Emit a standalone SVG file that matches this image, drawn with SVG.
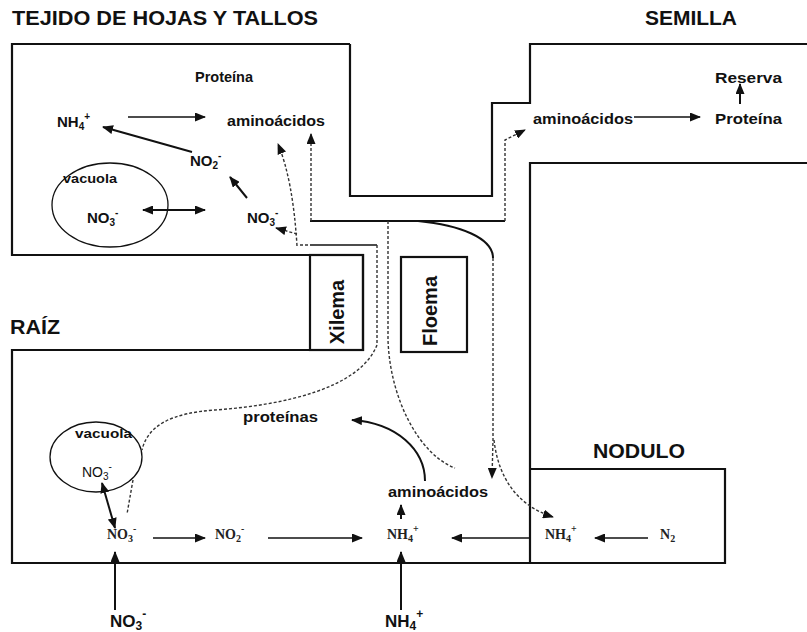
<svg xmlns="http://www.w3.org/2000/svg" width="807" height="632" viewBox="0 0 807 632">
<defs>
<style>
.wall{fill:none;stroke:#111;stroke-width:2.2}
.sol{fill:none;stroke:#111;stroke-width:2}
.thin{fill:none;stroke:#111;stroke-width:1.3}
.dot{fill:none;stroke:#333;stroke-width:1.4;stroke-dasharray:3 2}
.h{font-family:"Liberation Sans",Arial,sans-serif;font-weight:bold;font-size:20px;fill:#111}
.l{font-family:"Liberation Sans",Arial,sans-serif;font-weight:bold;font-size:15px;fill:#111}
.s{font-family:"Liberation Sans",Arial,sans-serif;font-weight:bold;font-size:13px;fill:#111}
.c{font-family:"Liberation Sans",Arial,sans-serif;font-size:14px;fill:#111}
.r{font-family:"Liberation Serif","Times New Roman",serif;font-weight:bold;font-size:14px;fill:#222}
.b{font-family:"Liberation Sans",Arial,sans-serif;font-weight:bold;font-size:17px;fill:#111}
</style>
<marker id="ah" markerUnits="userSpaceOnUse" markerWidth="11" markerHeight="9" refX="10" refY="4.5" orient="auto-start-reverse">
<path d="M0,0 L11,4.5 L0,9 z" fill="#111"/>
</marker>
</defs>

<g id="walls">
<path class="wall" d="M350,44 H12 V255 H363 V350 H12 V563 H725 V469 H531"/>
<path class="wall" d="M350,44 V196 H492 V103 H530 V44 H807"/>
<path class="wall" d="M807,163 H530 V563"/>
</g>

<g id="titles">
<text class="h" x="12" y="25" textLength="306" lengthAdjust="spacingAndGlyphs">TEJIDO DE HOJAS Y TALLOS</text>
<text class="h" x="645" y="25" textLength="92" lengthAdjust="spacingAndGlyphs">SEMILLA</text>
<text class="h" x="10" y="334" textLength="50" lengthAdjust="spacingAndGlyphs">RAÍZ</text>
<text class="h" x="593" y="458" textLength="92" lengthAdjust="spacingAndGlyphs">NODULO</text>
</g>

<g id="xilema">
<rect class="wall" x="310" y="255" width="53" height="95"/>
<text class="h" font-size="18" text-anchor="middle" transform="translate(344,312) rotate(-90)">Xilema</text>
</g>
<g id="floema">
<rect class="wall" x="401" y="257" width="66" height="95"/>
<text class="h" font-size="18" text-anchor="middle" transform="translate(437,311) rotate(-90)">Floema</text>
</g>

<g id="hoja-proteina"><text class="l" x="195" y="82" textLength="58" lengthAdjust="spacingAndGlyphs">Proteína</text></g>
<g id="hoja-nh4"><text class="l" x="57" y="127">NH<tspan font-size="10" dy="3">4</tspan><tspan font-size="10" dy="-10">+</tspan></text></g>
<g id="hoja-aminoacidos"><text class="l" x="227" y="126" textLength="98" lengthAdjust="spacingAndGlyphs">aminoácidos</text></g>
<g id="hoja-no2"><text class="l" x="190" y="166">NO<tspan font-size="10" dy="3">2</tspan><tspan font-size="10" dy="-10">-</tspan></text></g>
<g id="hoja-no3"><text class="l" x="247" y="223">NO<tspan font-size="10" dy="3">3</tspan><tspan font-size="10" dy="-10">-</tspan></text></g>
<g id="hoja-vacuola">
<ellipse class="thin" cx="110" cy="205" rx="58" ry="42"/>
<text class="s" x="63" y="183" textLength="54" lengthAdjust="spacingAndGlyphs">vacuola</text>
<text class="l" x="87" y="223">NO<tspan font-size="10" dy="3">3</tspan><tspan font-size="10" dy="-10">-</tspan></text>
</g>

<g id="semilla-aminoacidos"><text class="l" x="533" y="124" textLength="100" lengthAdjust="spacingAndGlyphs">aminoácidos</text></g>
<g id="semilla-proteina"><text class="l" x="715" y="124" textLength="67" lengthAdjust="spacingAndGlyphs">Proteína</text></g>
<g id="semilla-reserva"><text class="l" x="715" y="83" textLength="67" lengthAdjust="spacingAndGlyphs">Reserva</text></g>

<g id="raiz-vacuola">
<ellipse class="thin" cx="96" cy="457" rx="46" ry="35"/>
<text class="s" x="75" y="438" textLength="57" lengthAdjust="spacingAndGlyphs">vacuola</text>
<text class="c" x="82" y="477">NO<tspan font-size="10" dy="3">3</tspan><tspan font-size="10" dy="-10">-</tspan></text>
</g>
<g id="raiz-proteinas"><text class="l" x="243" y="422" textLength="75" lengthAdjust="spacingAndGlyphs">proteínas</text></g>
<g id="raiz-aminoacidos"><text class="l" x="388" y="497" textLength="100" lengthAdjust="spacingAndGlyphs">aminoácidos</text></g>
<g id="raiz-no3"><text class="r" x="107" y="539">NO<tspan font-size="10" dy="3">3</tspan><tspan font-size="10" dy="-10">-</tspan></text></g>
<g id="raiz-no2"><text class="r" x="215" y="539">NO<tspan font-size="10" dy="3">2</tspan><tspan font-size="10" dy="-10">-</tspan></text></g>
<g id="raiz-nh4"><text class="r" x="387" y="539">NH<tspan font-size="10" dy="3">4</tspan><tspan font-size="10" dy="-10">+</tspan></text></g>
<g id="nodulo-nh4"><text class="r" x="545" y="539">NH<tspan font-size="10" dy="3">4</tspan><tspan font-size="10" dy="-10">+</tspan></text></g>
<g id="nodulo-n2"><text class="r" x="660" y="539">N<tspan font-size="10" dy="3">2</tspan></text></g>
<g id="suelo-no3"><text class="b" x="110" y="627">NO<tspan font-size="12" dy="3">3</tspan><tspan font-size="12" dy="-12">-</tspan></text></g>
<g id="suelo-nh4"><text class="b" x="385" y="627">NH<tspan font-size="12" dy="3">4</tspan><tspan font-size="12" dy="-12">+</tspan></text></g>

<g id="connectors">
<!-- leaf -->
<path class="thin" d="M128,117 H205" marker-end="url(#ah)"/>
<path class="sol" d="M192,152 L103,127" marker-end="url(#ah)"/>
<path class="sol" d="M247,198 L230,177" marker-end="url(#ah)"/>
<path class="sol" d="M143,210 H205" marker-start="url(#ah)" marker-end="url(#ah)"/>
<!-- phloem / xylem in stem -->
<path class="sol" d="M310,221 H505"/>
<path class="dot" d="M311,221 V134" marker-end="url(#ah)"/>
<path class="dot" d="M505,221 V140 L525,130" marker-end="url(#ah)"/>
<path class="thin" d="M310,245 H377"/>
<path class="dot" d="M300,245 H310"/>
<path class="dot" d="M297,246 Q293,180 278,144" marker-end="url(#ah)"/>
<path class="dot" d="M297,234 L276,228" marker-end="url(#ah)"/>
<path class="dot" d="M377,245 V345 C360,388 285,405 215,410 C172,413 148,425 142,450"/>
<path class="dot" d="M133,480 L127,514"/>
<path class="dot" d="M388,221 V340 C390,400 420,455 455,468"/>
<path class="sol" d="M418,221 C460,225 493,238 493,258"/>
<path class="dot" d="M493,258 V440 L492,478" marker-end="url(#ah)"/>
<path class="dot" d="M494,440 C498,475 515,505 553,517" marker-end="url(#ah)"/>
<!-- seed -->
<path class="thin" d="M634,117 H700" marker-end="url(#ah)"/>
<path class="sol" d="M740,104 V84" marker-end="url(#ah)"/>
<!-- root -->
<path class="sol" d="M102,483 L115,528" marker-start="url(#ah)" marker-end="url(#ah)"/>
<path class="thin" d="M153,538 H205" marker-end="url(#ah)"/>
<path class="thin" d="M268,538 H362" marker-end="url(#ah)"/>
<path class="thin" d="M530,538 H452" marker-end="url(#ah)"/>
<path class="thin" d="M648,538 H595" marker-end="url(#ah)"/>
<path class="sol" d="M115,610 V552" marker-end="url(#ah)"/>
<path class="sol" d="M401,610 V552" marker-end="url(#ah)"/>
<path class="sol" d="M401,519 V505" marker-end="url(#ah)"/>
<path class="sol" d="M425,481 C425,450 397,423 352,420" marker-end="url(#ah)"/>
</g>
</svg>
